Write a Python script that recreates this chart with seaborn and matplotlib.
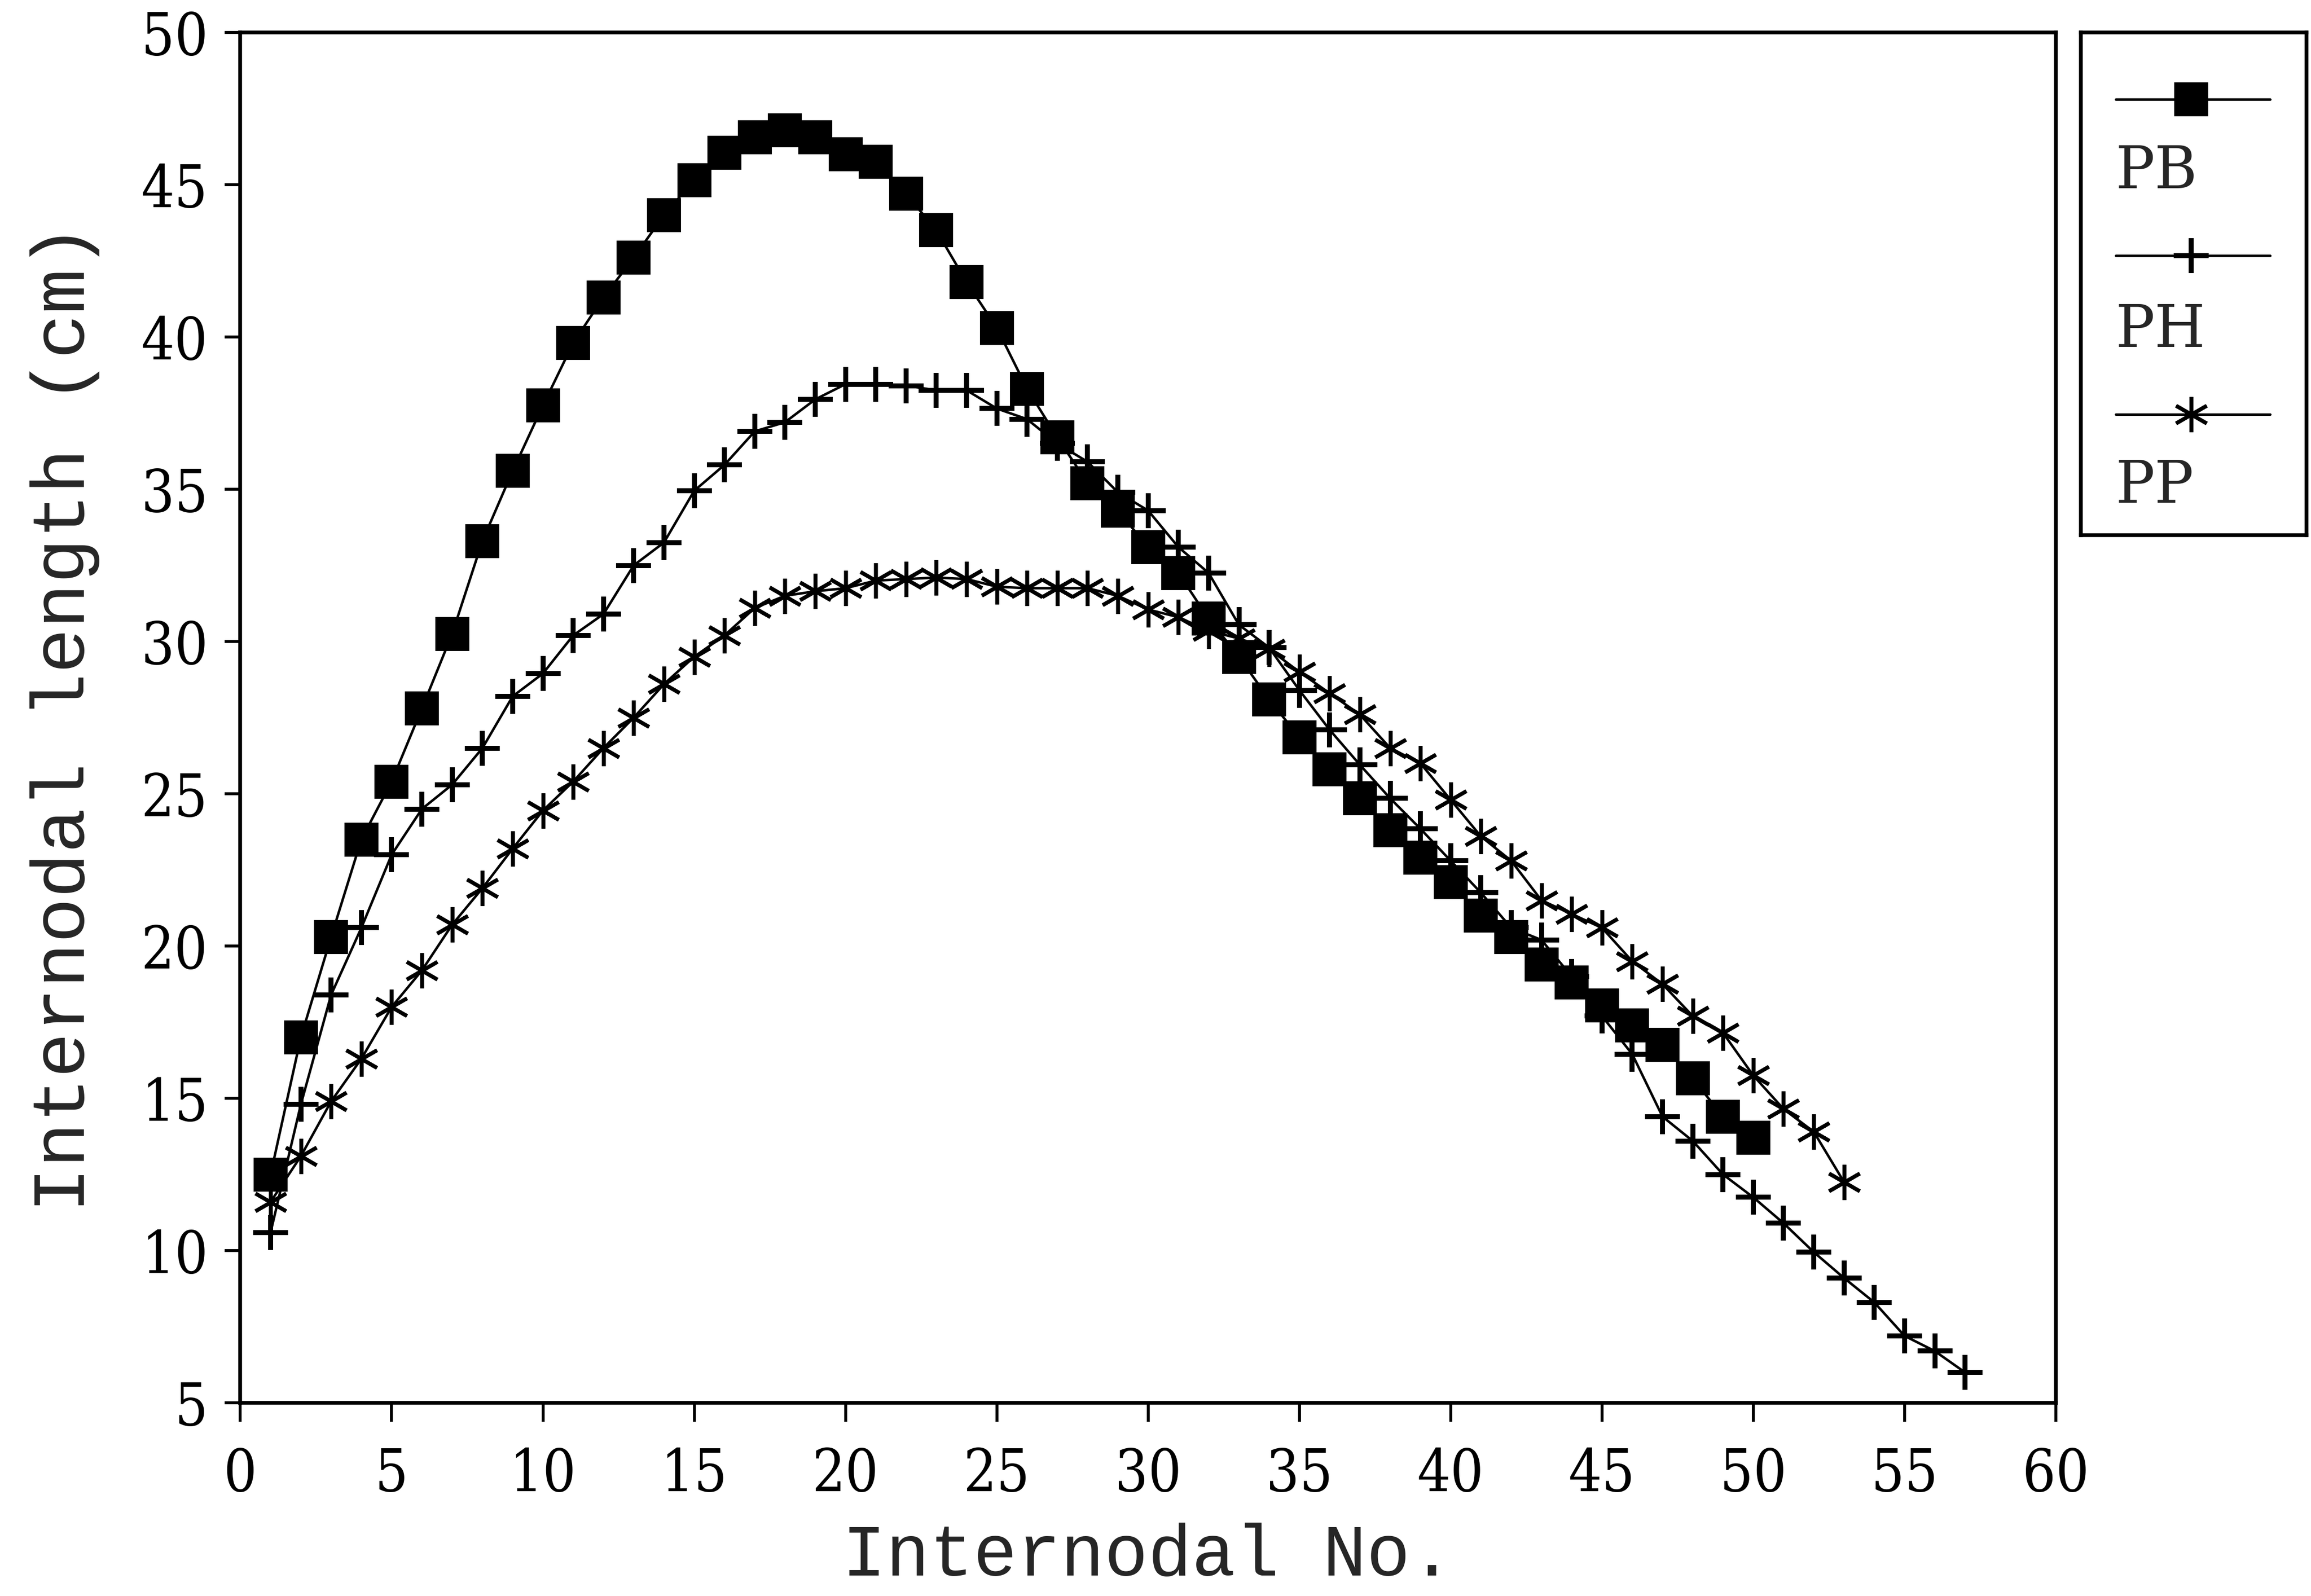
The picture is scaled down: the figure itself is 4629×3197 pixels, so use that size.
import matplotlib
matplotlib.use("Agg")
import matplotlib.pyplot as plt
import seaborn as sns
import numpy as np

# ---- data ----
pb_y = [12.5, 17.0, 20.3, 23.5, 25.4, 27.8, 30.25, 33.3, 35.6, 37.75,
        39.8, 41.3, 42.6, 44.0, 45.15, 46.05, 46.55, 46.78, 46.55, 46.0,
        45.75, 44.7, 43.5, 41.8, 40.3, 38.3, 36.7, 35.2, 34.3, 33.1,
        32.25, 30.75, 29.5, 28.1, 26.85, 25.8, 24.85, 23.8, 22.9, 22.1,
        21.0, 20.3, 19.4, 18.8, 18.05, 17.4, 16.75, 15.65, 14.4, 13.7]
ph_y = [10.6, 14.8, 18.4, 20.6, 23.0, 24.5, 25.3, 26.5, 28.2, 28.95,
        30.2, 30.9, 32.5, 33.25, 34.95, 35.8, 36.9, 37.2, 37.95, 38.45,
        38.45, 38.4, 38.25, 38.25, 37.65, 37.3, 36.5, 35.9, 34.9, 34.3,
        33.1, 32.25, 30.55, 29.8, 28.4, 27.1, 25.95, 24.85, 23.85, 22.8,
        21.75, 20.6, 20.2, 19.0, 17.7, 16.45, 14.4, 13.6, 12.5, 11.75,
        10.9, 9.95, 9.1, 8.3, 7.2, 6.7, 6.0]
pp_y = [11.6, 13.1, 14.9, 16.3, 18.0, 19.2, 20.7, 21.9, 23.2, 24.45,
        25.4, 26.5, 27.5, 28.6, 29.5, 30.2, 31.1, 31.5, 31.65, 31.75,
        32.0, 32.05, 32.1, 32.05, 31.8, 31.75, 31.75, 31.75, 31.5, 31.05,
        30.8, 30.35, 30.1, 29.75, 29.0, 28.3, 27.6, 26.5, 26.0, 24.8,
        23.6, 22.8, 21.5, 21.05, 20.6, 19.5, 18.75, 17.7, 17.15, 15.75,
        14.65, 13.9, 12.25]
pb_x = list(range(1, len(pb_y) + 1))
ph_x = list(range(1, len(ph_y) + 1))
pp_x = list(range(1, len(pp_y) + 1))

series_names = ["PB", "PH", "PP"]
x_ticks = list(range(0, 61, 5))
y_ticks = list(range(5, 51, 5))

# ---- style ----
sns.set_style("ticks")
plt.rcParams['font.family'] = ['DejaVu Serif', 'DejaVu Sans']
label_font = ['Liberation Mono', 'DejaVu Sans Mono']

W, H = 4629, 3197
fig = plt.figure(figsize=(W / 300, H / 300), dpi=300)
ax = fig.add_axes([0.104, 0.121, 0.7856, 0.8587])

lw = 1.2
sq_style = dict(marker='s', markersize=16, markerfacecolor='black',
                markeredgecolor='black', markeredgewidth=0.5)
plus_style = dict(marker='+', markersize=17, markeredgecolor='black',
                  markeredgewidth=2.4)
ast_style = dict(marker=(6, 2, 0), markersize=17, markeredgecolor='black',
                 markeredgewidth=1.8)

sns.lineplot(x=pb_x, y=pb_y, ax=ax, color='black', linewidth=lw, **sq_style)
sns.lineplot(x=ph_x, y=ph_y, ax=ax, color='black', linewidth=lw, **plus_style)
sns.lineplot(x=pp_x, y=pp_y, ax=ax, color='black', linewidth=lw, **ast_style)

ax.set_xlim(0, 60)
ax.set_ylim(5, 50)
ax.set_xticks(x_ticks)
ax.set_yticks(y_ticks)
ax.set_xticklabels([str(t) for t in x_ticks], fontstretch='condensed',
                   fontweight='light')
ax.set_yticklabels([str(t) for t in y_ticks], fontstretch='condensed',
                   fontweight='light')
ax.tick_params(axis='x', direction='out', length=9, width=1.4, pad=12,
               labelsize=28, colors='black')
ax.tick_params(axis='y', direction='out', length=7.5, width=1.4, pad=8,
               labelsize=28, colors='black')
for s in ax.spines.values():
    s.set_visible(True)
    s.set_linewidth(1.8)
    s.set_color('black')

ax.set_xlabel("Internodal No.", fontsize=35, labelpad=9, family=label_font)
ax.set_ylabel("Internodal length (cm)", fontsize=36, labelpad=20,
              family=label_font)

# ---- legend box ----
lax = fig.add_axes([0.9004, 0.6647, 0.0976, 0.315])
lax.set_xlim(0, 1)
lax.set_ylim(0, 1)
lax.set_xticks([])
lax.set_yticks([])
for s in lax.spines.values():
    s.set_linewidth(1.8)
    s.set_color('black')
styles = [sq_style, plus_style, ast_style]
line_y = [0.867, 0.556, 0.240]
text_y = [0.722, 0.406, 0.097]
for name, st, ly, ty in zip(series_names, styles, line_y, text_y):
    lax.plot([0.155, 0.839], [ly, ly], color='black', linewidth=lw)
    lax.plot([0.49], [ly], color='black', linestyle='none', **st)
    lax.text(0.155, ty, name, fontsize=28, va='center', ha='left')

fig.savefig("out.png", dpi=300)
